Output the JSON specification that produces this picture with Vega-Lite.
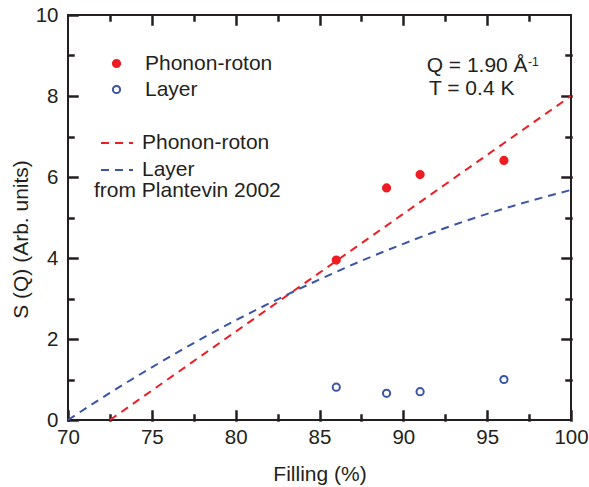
{
  "$schema": "https://vega.github.io/schema/vega-lite/v6.json",
  "autosize": {"type": "none"},
  "width": 503,
  "height": 405,
  "padding": {"left": 68, "top": 15, "right": 18, "bottom": 67},
  "background": "white",
  "datasets": {
    "points": [
      {"series": "Phonon-roton", "filling": 86, "s": 3.95},
      {"series": "Phonon-roton", "filling": 89, "s": 5.73},
      {"series": "Phonon-roton", "filling": 91, "s": 6.06},
      {"series": "Phonon-roton", "filling": 96, "s": 6.41},
      {"series": "Layer", "filling": 86, "s": 0.81},
      {"series": "Layer", "filling": 89, "s": 0.66},
      {"series": "Layer", "filling": 91, "s": 0.70},
      {"series": "Layer", "filling": 96, "s": 1.0}
    ],
    "lines": [
      {"model": "Phonon-roton", "filling": 72.5, "s": 0},
      {"model": "Phonon-roton", "filling": 100, "s": 8.0},
      {"model": "Layer", "filling": 70, "s": 0},
      {"model": "Layer", "filling": 72.5, "s": 0.67},
      {"model": "Layer", "filling": 75, "s": 1.3},
      {"model": "Layer", "filling": 77.5, "s": 1.9},
      {"model": "Layer", "filling": 80, "s": 2.46},
      {"model": "Layer", "filling": 82.5, "s": 2.98},
      {"model": "Layer", "filling": 85, "s": 3.47},
      {"model": "Layer", "filling": 87.5, "s": 3.93},
      {"model": "Layer", "filling": 90, "s": 4.35},
      {"model": "Layer", "filling": 92.5, "s": 4.74},
      {"model": "Layer", "filling": 95, "s": 5.09},
      {"model": "Layer", "filling": 97.5, "s": 5.4},
      {"model": "Layer", "filling": 100, "s": 5.68}
    ]
  },
  "layer": [
    {
      "data": {"name": "lines"},
      "mark": {"type": "line", "strokeWidth": 2, "interpolate": "monotone"},
      "encoding": {
        "x": {"field": "filling", "type": "quantitative", "scale": {"domain": [70, 100], "nice": false, "zero": false},
          "axis": {"orient": "top", "title": null, "labels": false, "values": [75, 80, 85, 90, 95], "tickSize": -9, "tickColor": "#231f20", "tickWidth": 2.5, "tickCap": "square"}},
        "y": {"field": "s", "type": "quantitative", "scale": {"domain": [0, 10], "nice": false},
          "axis": {"orient": "right", "title": null, "labels": false, "values": [2, 4, 6, 8], "tickSize": -9, "tickColor": "#231f20", "tickWidth": 2.5, "tickCap": "square"}},
        "stroke": {"field": "model", "type": "nominal", "sort": "descending",
          "scale": {"range": ["#ee1d23", "#3b54a5"]},
          "legend": {"orient": "none", "legendX": 26, "legendY": 111, "padding": 0,
            "title": "from Plantevin 2002", "titleOrient": "bottom", "titleAnchor": "start", "titleAlign": "left", "titleLimit": 400,
            "titleFont": "Liberation Sans", "titleFontSize": 21, "titleFontWeight": "normal", "titleColor": "#231f20", "titlePadding": 0,
            "symbolType": "stroke", "symbolSize": 1024, "symbolStrokeWidth": 2, "symbolOffset": 6,
            "labelFont": "Liberation Sans", "labelFontSize": 21, "labelColor": "#231f20", "labelOffset": 8, "rowPadding": -7}},
        "strokeDash": {"field": "model", "type": "nominal", "sort": "descending",
          "scale": {"range": [[8, 6], [8, 6]]},
          "legend": {"orient": "none", "legendX": 26, "legendY": 111, "padding": 0,
            "title": "from Plantevin 2002", "titleOrient": "bottom", "titleAnchor": "start", "titleAlign": "left", "titleLimit": 400,
            "titleFont": "Liberation Sans", "titleFontSize": 21, "titleFontWeight": "normal", "titleColor": "#231f20", "titlePadding": 0,
            "symbolType": "stroke", "symbolSize": 1024, "symbolStrokeWidth": 2, "symbolOffset": 6,
            "labelFont": "Liberation Sans", "labelFontSize": 21, "labelColor": "#231f20", "labelOffset": 8, "rowPadding": -7}}
      }
    },
    {
      "data": {"name": "points"},
      "mark": {"type": "point", "shape": "circle", "size": 52, "strokeWidth": 2, "opacity": 1},
      "encoding": {
        "x": {"field": "filling", "type": "quantitative",
          "axis": {"orient": "bottom", "title": "Filling (%)", "values": [70, 75, 80, 85, 90, 95, 100], "tickSize": -9, "tickColor": "#231f20", "tickWidth": 2.5, "tickCap": "square",
            "labelPadding": 16, "titleY": 60, "titleBaseline": "alphabetic"}},
        "y": {"field": "s", "type": "quantitative",
          "axis": {"orient": "left", "title": "S (Q) (Arb. units)", "values": [0, 2, 4, 6, 8, 10], "tickSize": -9, "tickColor": "#231f20", "tickWidth": 2.5, "tickCap": "square",
            "labelPadding": 19, "titleX": -41, "titleY": 224, "titleBaseline": "alphabetic", "titleAngle": -90}},
        "fill": {"field": "series", "type": "nominal", "sort": "descending",
          "scale": {"range": ["#ee1d23", "white"]},
          "legend": {"orient": "none", "legendX": 38, "legendY": 38, "padding": 0, "title": null,
            "symbolType": "circle", "symbolSize": 52, "symbolStrokeWidth": 2,
            "labelFont": "Liberation Sans", "labelFontSize": 21, "labelColor": "#231f20", "labelOffset": 18, "rowPadding": 4}},
        "stroke": {"field": "series", "type": "nominal", "sort": "descending",
          "scale": {"range": ["#ee1d23", "#3b54a5"]},
          "legend": {"orient": "none", "legendX": 38, "legendY": 38, "padding": 0, "title": null,
            "symbolType": "circle", "symbolSize": 52, "symbolStrokeWidth": 2,
            "labelFont": "Liberation Sans", "labelFontSize": 21, "labelColor": "#231f20", "labelOffset": 18, "rowPadding": 4}}
      }
    },
    {
      "data": {"values": [{"label": "Q = 1.90 Å"}]},
      "mark": {"type": "text", "align": "left", "baseline": "alphabetic", "font": "Liberation Sans", "fontSize": 21, "color": "#231f20"},
      "encoding": {
        "x": {"datum": 91.39, "type": "quantitative",
          "axis": {"orient": "bottom", "title": null, "labels": false, "values": [72.5, 77.5, 82.5, 87.5, 92.5, 97.5], "tickSize": -5, "tickColor": "#231f20", "tickWidth": 2.5, "tickCap": "square"}},
        "y": {"datum": 8.59, "type": "quantitative",
          "axis": {"orient": "left", "title": null, "labels": false, "values": [1, 3, 5, 7, 9], "tickSize": -5, "tickColor": "#231f20", "tickWidth": 2.5, "tickCap": "square"}},
        "text": {"field": "label", "type": "nominal"}
      }
    },
    {
      "data": {"values": [{"label": "T = 0.4 K"}]},
      "mark": {"type": "text", "align": "left", "baseline": "alphabetic", "font": "Liberation Sans", "fontSize": 21, "color": "#231f20"},
      "encoding": {
        "x": {"datum": 91.53, "type": "quantitative",
          "axis": {"orient": "top", "title": null, "labels": false, "values": [72.5, 77.5, 82.5, 87.5, 92.5, 97.5], "tickSize": -5, "tickColor": "#231f20", "tickWidth": 2.5, "tickCap": "square"}},
        "y": {"datum": 8.02, "type": "quantitative",
          "axis": {"orient": "right", "title": null, "labels": false, "values": [1, 3, 5, 7, 9], "tickSize": -5, "tickColor": "#231f20", "tickWidth": 2.5, "tickCap": "square"}},
        "text": {"field": "label", "type": "nominal"}
      }
    },
    {
      "data": {"values": [{"label": "-1"}]},
      "mark": {"type": "text", "align": "left", "baseline": "alphabetic", "font": "Liberation Sans", "fontSize": 12, "color": "#231f20"},
      "encoding": {
        "x": {"datum": 97.43, "type": "quantitative", "axis": null},
        "y": {"datum": 8.74, "type": "quantitative", "axis": null},
        "text": {"field": "label", "type": "nominal"}
      }
    }
  ],
  "resolve": {
    "axis": {"x": "independent", "y": "independent"},
    "scale": {"stroke": "independent", "fill": "independent", "strokeDash": "independent"},
    "legend": {"stroke": "independent", "fill": "independent", "strokeDash": "independent"}
  },
  "config": {
    "view": {"stroke": "#231f20", "strokeWidth": 2},
    "axis": {
      "domain": false, "zindex": 1, "ticks": true,
      "labelFont": "Liberation Sans", "labelFontSize": 20.5, "labelColor": "#231f20",
      "titleFont": "Liberation Sans", "titleFontSize": 21, "titleFontWeight": "normal", "titleColor": "#231f20",
      "grid": false, "labelFlush": false, "labelOverlap": false, "labelBound": false
    }
  }
}
